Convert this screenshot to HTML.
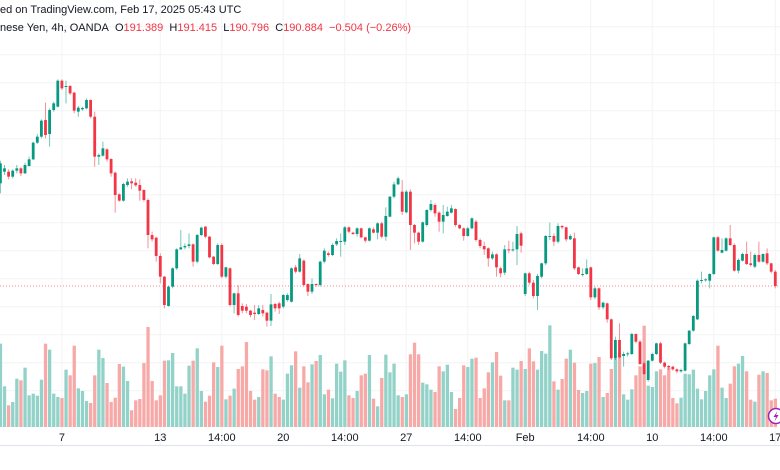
<!DOCTYPE html>
<html><head><meta charset="utf-8">
<style>
html,body{margin:0;padding:0;background:#fff;}
#wrap{position:relative;width:780px;height:470px;overflow:hidden;font-family:"Liberation Sans",sans-serif;color:#131722;}
.hdr{position:absolute;left:0;font-size:11px;white-space:nowrap;}
.r{color:#f23645;}
svg{position:absolute;left:0;top:0;}
</style></head>
<body>
<div id="wrap">
<svg id="svg" width="780" height="470"></svg>
<div class="hdr" style="top:4px;">ed on TradingView.com, Feb 17, 2025 05:43 UTC</div>
<div class="hdr" style="top:22px;">nese Yen, 4h, OANDA&nbsp; O<span class="r">191.389</span>&nbsp; H<span class="r">191.415</span>&nbsp; L<span class="r">190.796</span>&nbsp; C<span class="r">190.884</span>&nbsp; <span class="r">−0.504 (−0.26%)</span></div>
</div>
<script>
const opens=[450,485,485,470,488,495,480,502,522,572,590,640,598,670,680,758,740,742,722,665,672,675,700,650,530,533,552,523,482,417,398,445,456,452,445,430,400,295,287,232,170,82,140,195,252,258,262,267,215,295,320,290,230,208,265,170,195,85,120,82,80,68,62,58,70,62,38,88,90,80,100,95,198,185,218,148,125,148,145,215,240,235,267,274,275,318,302,298,315,288,278,312,302,330,290,350,410,447,425,363,425,325,302,275,325,370,385,362,335,352,362,373,325,315,292,315,335,280,262,255,225,237,195,182,252,252,252,300,118,180,152,112,170,210,290,292,275,322,318,282,285,198,178,178,198,108,135,78,90,42,-75,-20,-68,-63,-62,-2,-25,-90,-140,-82,-62,-30,-88,-98,-100,-108,-114,-112,-32,8,42,158,160,158,178,288,242,248,285,265,188,218,238,210,200,235,215,240,210,185];
const closes=[510,495,470,488,495,480,505,522,572,590,638,595,670,690,758,735,742,720,668,677,676,700,650,530,535,555,522,480,415,398,448,455,450,444,428,400,295,282,232,170,85,140,195,252,258,262,267,215,295,317,290,228,208,265,170,198,85,120,55,68,68,55,58,75,60,38,87,75,75,115,115,195,185,225,145,125,148,145,215,248,235,265,277,277,318,305,298,315,288,278,315,302,330,290,352,410,447,465,365,425,325,302,275,333,370,388,360,335,355,365,375,325,315,292,315,345,280,262,252,225,237,198,180,252,250,252,298,263,180,152,112,172,210,292,292,275,322,318,282,292,195,178,178,195,108,135,78,92,42,-75,-20,-72,-62,-60,-2,-25,-92,-122,-82,-62,-30,-88,-100,-102,-108,-114,-110,-30,8,52,158,160,162,178,288,248,250,285,265,188,220,238,208,205,235,215,238,210,185,142];
const highs=[518,505,492,492,505,498,512,530,575,598,642,692,675,695,762,762,758,745,725,682,680,705,702,665,540,575,555,525,485,420,452,465,465,465,462,432,405,305,290,240,172,142,198,255,310,270,300,270,298,320,322,292,232,270,270,200,198,122,145,90,88,70,85,85,85,65,118,92,95,118,120,198,205,238,222,150,165,150,218,255,245,270,285,300,322,320,305,318,317,290,318,318,333,335,378,412,455,470,460,430,432,328,305,336,372,400,390,366,385,380,385,375,328,318,320,348,340,285,275,258,245,240,200,265,278,275,322,305,182,185,160,178,212,295,332,300,330,325,320,298,302,200,195,222,200,140,138,95,92,45,-10,30,-55,-55,2,0,-20,-85,-80,-58,-28,-25,-85,-95,-98,-105,-106,-28,10,55,162,185,165,180,290,292,285,288,325,270,225,242,275,245,240,275,240,255,212,190];
const lows=[420,475,462,465,480,472,478,500,520,568,585,585,560,665,678,730,690,715,660,650,668,672,645,500,505,530,515,470,362,395,395,440,432,440,398,395,255,275,215,150,75,80,135,190,250,252,255,200,210,292,285,225,205,205,165,165,80,60,50,60,60,48,40,55,50,20,22,65,58,75,95,92,180,182,140,112,118,140,140,210,230,232,262,230,265,300,295,290,285,272,275,300,282,285,278,348,405,445,355,360,250,270,265,272,320,365,350,305,300,350,360,320,312,278,290,312,275,255,235,200,220,170,168,175,240,245,205,242,112,145,105,70,165,205,280,262,270,312,275,280,190,175,170,175,100,102,70,72,32,-80,-80,-75,-100,-70,-65,-30,-95,-125,-145,-85,-65,-92,-105,-110,-112,-120,-118,-115,-35,5,40,150,155,135,175,245,240,245,262,185,180,215,205,200,195,212,212,205,180,135];
const volumes=[250,122,65,75,145,140,178,95,100,94,142,250,232,100,90,87,172,155,244,116,108,78,72,155,232,207,132,75,88,189,181,138,50,80,84,192,300,138,80,95,199,200,222,122,122,100,184,199,236,108,76,94,194,180,244,83,94,115,174,182,255,108,82,90,173,170,212,100,90,82,160,185,227,118,182,134,188,198,216,98,112,86,190,166,200,95,87,108,155,160,216,85,62,147,217,164,190,95,90,98,218,253,218,133,128,112,105,182,167,187,105,54,87,185,180,205,208,87,116,164,194,225,154,80,80,178,172,198,174,236,197,172,228,220,305,137,112,144,205,232,193,111,102,108,190,192,210,90,102,174,205,223,98,82,113,155,182,304,124,120,167,173,155,178,87,71,88,160,158,172,115,83,108,155,173,244,118,87,130,182,190,213,167,82,76,157,167,162,80,85];
const tickLabels=["7","13","14:00","20","14:00","27","14:00","Feb","14:00","10","14:00","17"];
const tickIndex=[15,39,54,69,84,99,114,128,144,159,174,189];
const lastPrice=142;

const NS="http://www.w3.org/2000/svg";
const svg=document.getElementById('svg');
function xScale(i){return 0.4+i*4.1;}
function yScale(v){return (1000-v)/3;}
function vScale(v){return v/3;}
const volBase=427;
function mk(t,a){const e=document.createElementNS(NS,t);for(const k in a)e.setAttribute(k,a[k]);svg.appendChild(e);return e;}

// horizontal grid
for(let k=0;k<15;k++){
  const y=26.7+k*28;
  const g=mk('line',{x1:0,x2:780,y1:y,y2:y,stroke:'#f2f3f5','stroke-width':1});
  
  
}
// vertical grid + ticks
tickIndex.forEach((ti,j)=>{
  const x=xScale(ti);
  const g=mk('line',{x1:x,x2:x,y1:0,y2:445,stroke:'#f2f3f5','stroke-width':1});
  
  
  const t=mk('text',{x:x,y:441,'text-anchor':'middle','font-size':'11','font-family':'Liberation Sans, sans-serif',fill:'#131722'});
  t.textContent=tickLabels[j];
  
  
});
// volume
const n=Math.min(opens.length,volumes.length);
for(let i=0;i<n;i++){
  const up=closes[i]>=opens[i];
  const h=vScale(volumes[i]);
  const r=mk('rect',{x:xScale(i)-1.6,y:volBase-h,width:3.3,height:h,fill:up?'#92d2c8':'#f7a9a7'});
  
  
}
// price line
const pl=mk('line',{x1:0,x2:780,y1:yScale(lastPrice),y2:yScale(lastPrice),stroke:'#f23645','stroke-width':1,'stroke-dasharray':'1 2',opacity:0.6});


// candles
for(let i=0;i<opens.length;i++){
  const up=closes[i]>=opens[i];
  const col=up?'#089981':'#f23645';
  const x=xScale(i);
  const w=mk('line',{x1:x,x2:x,y1:yScale(highs[i]),y2:yScale(lows[i]),stroke:col,'stroke-width':1,opacity:0.55});
  
  
  const top=yScale(Math.max(opens[i],closes[i]));
  const bh=Math.max(1,yScale(Math.min(opens[i],closes[i]))-top);
  const b=mk('rect',{x:x-1.4,y:top,width:2.8,height:bh,fill:col});
  
  
}
// axis line
const ax=mk('line',{x1:0,x2:780,y1:445.5,y2:445.5,stroke:'#e0e3eb','stroke-width':1});


// badge
const bc=mk('circle',{cx:776,cy:416,r:7.5,fill:'#fff',stroke:'#9c27b0','stroke-width':1.5});


const bl=mk('path',{d:'M777.5 411 L773.5 417 L776 417 L774.5 421.5 L778.5 415 L776 415 Z',fill:'#9c27b0'});


</script>
</body></html>
